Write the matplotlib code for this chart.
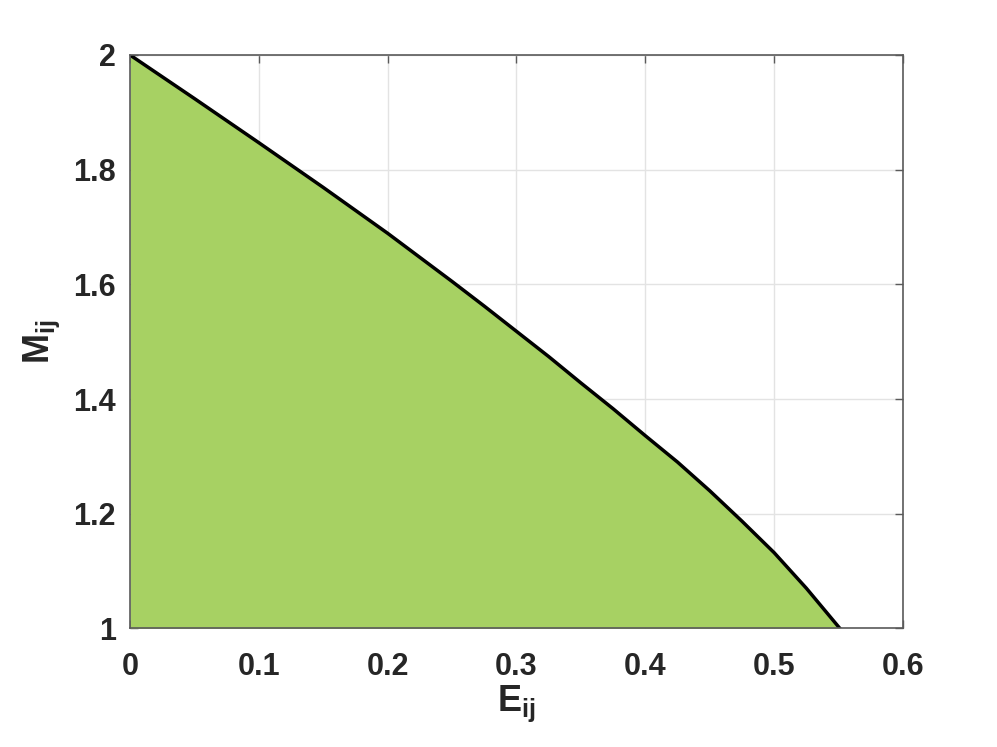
import numpy as np
import matplotlib
matplotlib.use("Agg")
import matplotlib.pyplot as plt

# boundary curve
E_vals = [0.0, 0.05, 0.10, 0.15, 0.20, 0.25, 0.275, 0.30, 0.325, 0.35, 0.375,
          0.40, 0.425, 0.45, 0.475, 0.50, 0.525, 0.551]
M_vals = [2.0, 1.924, 1.847, 1.769, 1.689, 1.605, 1.562, 1.518, 1.474, 1.428, 1.383,
          1.336, 1.290, 1.240, 1.187, 1.132, 1.070, 1.0]

x_ticks = [0, 0.1, 0.2, 0.3, 0.4, 0.5, 0.6]
x_ticklabels = ['0', '0.1', '0.2', '0.3', '0.4', '0.5', '0.6']
y_ticks = [1, 1.2, 1.4, 1.6, 1.8, 2]
y_ticklabels = ['1', '1.2', '1.4', '1.6', '1.8', '2']

plt.rcParams['font.family'] = ['Liberation Sans', 'DejaVu Sans']
plt.rcParams['font.weight'] = 'bold'
plt.rcParams['mathtext.fontset'] = 'custom'
plt.rcParams['mathtext.rm'] = 'Liberation Sans:bold'
plt.rcParams['mathtext.bf'] = 'Liberation Sans:bold'
plt.rcParams['mathtext.it'] = 'Liberation Sans:bold'

fig = plt.figure(figsize=(9.97, 7.47), dpi=100)
ax = fig.add_axes([0.1304, 0.1588, 0.7753, 0.7676])

ax.fill_between(E_vals, M_vals, 1.0, color='#a7d163', linewidth=0, zorder=2)
ax.plot(E_vals, M_vals, color='black', linewidth=2.5, zorder=3)

ax.set_xlim(0, 0.6)
ax.set_ylim(1, 2)
ax.set_xticks(x_ticks)
ax.set_xticklabels(x_ticklabels)
ax.set_yticks(y_ticks)
ax.set_yticklabels(y_ticklabels)

ax.grid(True, color='#e3e3e3', linewidth=1.0, zorder=0)
ax.set_axisbelow(True)
for sp in ax.spines.values():
    sp.set_color('#5a5a5a')
    sp.set_linewidth(1.2)
    sp.set_zorder(4)
ax.tick_params(direction='in', top=True, right=True, length=5.5, width=1.0,
               color='#5a5a5a', labelsize=22, labelcolor='#262626')
ax.tick_params(axis='x', pad=17)
ax.tick_params(axis='y', pad=10)

ax.set_xlabel(r'$\mathbf{E_{ij}}$', fontsize=26, color='#262626', labelpad=1)
ax.set_ylabel(r'$\mathbf{M_{ij}}$', fontsize=26, color='#262626', labelpad=8)

fig.savefig('out.png', dpi=100)
